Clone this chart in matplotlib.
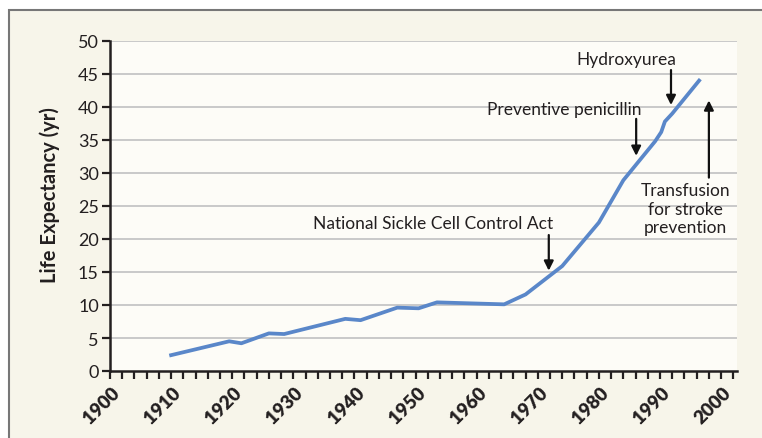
import numpy as np
import matplotlib.pyplot as plt
import matplotlib.transforms as mtrans
from matplotlib.patches import Rectangle
from matplotlib.ticker import MultipleLocator

# data
years = [1910, 1919.5, 1921.5, 1926, 1928.5, 1938.5, 1941, 1947, 1950.5, 1953.5,
         1964.5, 1968, 1974, 1980, 1984, 1989.2, 1990.2, 1990.8, 1992, 1996.4]
life_exp = [2.4, 4.5, 4.2, 5.7, 5.6, 7.9, 7.7, 9.6, 9.5, 10.4,
            10.1, 11.6, 15.9, 22.5, 28.9, 34.8, 36.2, 37.8, 39.0, 44.0]

x_ticks = list(range(1900, 2001, 10))
y_ticks = list(range(0, 51, 5))

# annotations: text, text position, arrow tail, arrow head
notes = [
    ("National Sickle Cell Control Act", (1952.9, 22.4), (1971.8, 20.6), (1971.8, 15.2)),
    ("Preventive penicillin", (1974.3, 39.7), (1986.1, 38.2), (1986.1, 32.6)),
    ("Hydroxyurea", (1984.5, 47.3), (1991.8, 45.6), (1991.8, 40.3)),
    ("Transfusion\nfor stroke\nprevention", (1994.2, 24.6), (1998.0, 29.3), (1998.0, 41.0)),
]

txt = "#231f20"
plt.rcParams['font.family'] = ['Lato', 'DejaVu Sans']

fig = plt.figure(figsize=(7.62, 4.39), dpi=100, facecolor="white")
fig.patches.append(Rectangle((9 / 762, -0.1), 1.2, 1.1 - 11 / 439,
                             transform=fig.transFigure, facecolor="#f7f5ea",
                             edgecolor="#777777", linewidth=1.5, zorder=-5))

ax = fig.add_axes([110 / 762, 1 - 372 / 439, 627 / 762, 330 / 439])
ax.set_facecolor("#fdfcf7")
ax.set_xlim(1900, 2002.6)
ax.set_ylim(0, 50)

for v in y_ticks[1:]:
    ax.axhline(v, color="#c9c9c9", lw=1.4, zorder=1)

ax.plot(years, life_exp, color="#5a87c9", lw=2.7, zorder=3, solid_joinstyle="round")

for s in ["top", "right"]:
    ax.spines[s].set_visible(False)
for s in ["left", "bottom"]:
    ax.spines[s].set_linewidth(1.8)
    ax.spines[s].set_color(txt)

ax.set_xticks(x_ticks)
ax.xaxis.set_minor_locator(MultipleLocator(2))
ax.set_yticks(y_ticks)
ax.tick_params(axis="both", which="both", direction="out", color=txt,
               width=1.6, length=6, labelcolor=txt)
ax.tick_params(axis="y", labelsize=13, pad=2)
ax.tick_params(axis="x", labelsize=13.5, pad=7)
ax.set_xticklabels([str(x) for x in x_ticks], rotation=45, ha="right",
                   rotation_mode="anchor", va="center", fontweight="heavy")
shift = mtrans.ScaledTranslation(7 / 100, 0, fig.dpi_scale_trans)
for lab in ax.get_xticklabels():
    lab.set_transform(lab.get_transform() + shift)

ax.set_ylabel("Life Expectancy (yr)", fontsize=14.5, fontweight="bold",
              color=txt, va="center")
ax.yaxis.set_label_coords(-0.096, 0.536)

for label, xy_text, tail, head in notes:
    ax.text(xy_text[0], xy_text[1], label, ha="center", va="center",
            fontsize=12.5, color=txt, linespacing=1.2, zorder=4)
    ax.annotate("", xy=head, xytext=tail,
                arrowprops=dict(arrowstyle="-|>", color="#111111", lw=1.6,
                                mutation_scale=14, shrinkA=0, shrinkB=0),
                zorder=4)

fig.savefig("out.png", dpi=100, facecolor=fig.get_facecolor())
